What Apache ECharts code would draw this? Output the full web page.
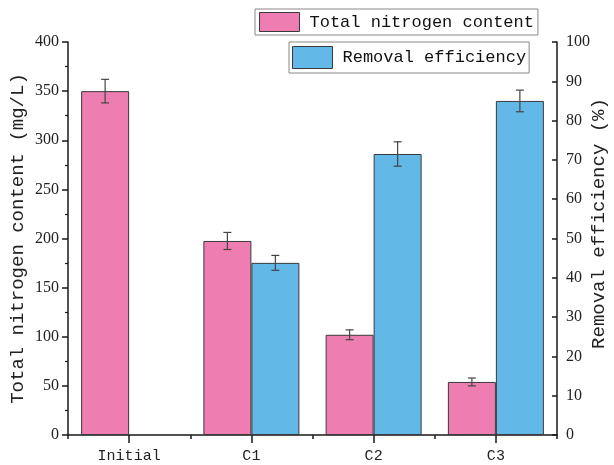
<!DOCTYPE html>
<html>
<head>
<meta charset="utf-8">
<script src="https://cdn.jsdelivr.net/npm/echarts@6/dist/echarts.min.js"></script>
<style>
html,body{margin:0;padding:0;background:#fff;}
#chart{width:614px;height:465px;}
</style>
</head>
<body>
<div id="chart"></div>
<script>
const categories = ['Initial', 'C1', 'C2', 'C3'];
const nitrogen = [350, 197.5, 102, 54];
const nitrogenErr = [12, 8.7, 5, 4];
const removal = [null, 43.8, 71.5, 85];
const removalErr = [null, 1.9, 3.1, 2.75];
const nitrogenName = 'Total nitrogen content';
const removalName = 'Removal efficiency';

const MONO = '"Liberation Mono", monospace';
const SERIF = '"Liberation Serif", serif';
const PINK = '#EE7EB1';
const BLUE = '#62B8E7';
const EDGE = '#3a3a3a';
const BAR_W = 48;

function errData(vals, errs) {
  const out = [];
  vals.forEach((v, i) => { if (v != null) out.push([i, v, errs[i]]); });
  return out;
}
function errRender(offset) {
  return function (params, api) {
    const i = api.value(0), v = api.value(1), e = api.value(2);
    const top = api.coord([i, v + e]);
    const bot = api.coord([i, v - e]);
    const x = top[0] + offset;
    const cw = 4;
    const style = { stroke: '#444', lineWidth: 1.2, fill: null };
    return {
      type: 'group',
      children: [
        { type: 'line', shape: { x1: x, y1: top[1], x2: x, y2: bot[1] }, style },
        { type: 'line', shape: { x1: x - cw, y1: top[1], x2: x + cw, y2: top[1] }, style },
        { type: 'line', shape: { x1: x - cw, y1: bot[1], x2: x + cw, y2: bot[1] }, style }
      ]
    };
  };
}

const chart = echarts.init(document.getElementById('chart'), null, { renderer: 'canvas' });
const axisLineStyle = { color: '#1a1a1a', width: 1.5 };
chart.setOption({
  animation: false,
  backgroundColor: '#fff',
  grid: { left: 68, right: 57, top: 42, bottom: 30, containLabel: false, outerBoundsMode: 'none' },
  legend: [
    {
      data: [nitrogenName], left: 255, top: 9, orient: 'horizontal',
      itemWidth: 40, itemHeight: 19, padding: [3, 4, 3, 4],
      borderColor: '#888', borderWidth: 1, backgroundColor: '#fff',
      icon: 'rect',
      itemStyle: { borderColor: EDGE, borderWidth: 1 },
      textStyle: { fontFamily: MONO, fontSize: 17, color: '#111', padding: [0, 0, 0, 5] }
    },
    {
      data: [removalName], left: 289, top: 42, orient: 'horizontal',
      itemWidth: 40, itemHeight: 22, padding: [4, 3, 4, 3],
      borderColor: '#888', borderWidth: 1, backgroundColor: '#fff',
      icon: 'rect',
      itemStyle: { borderColor: EDGE, borderWidth: 1 },
      textStyle: { fontFamily: MONO, fontSize: 17, color: '#111', padding: [0, 0, 0, 5] }
    }
  ],
  xAxis: [
    {
      type: 'category', data: categories, position: 'bottom',
      axisLine: { show: true, lineStyle: axisLineStyle },
      axisTick: { show: true, alignWithLabel: true, length: 8, lineStyle: { color: '#1a1a1a', width: 1.5 } },
      axisLabel: { fontFamily: MONO, fontSize: 15, color: '#222', margin: 14 },
      splitLine: { show: false }
    },
    {
      type: 'category', data: categories, position: 'bottom',
      axisLine: { show: false },
      axisTick: { show: true, length: 4, lineStyle: { color: '#1a1a1a', width: 1.5 } },
      axisLabel: { show: false },
      splitLine: { show: false }
    }
  ],
  yAxis: [
    {
      type: 'value', min: 0, max: 400, interval: 50, position: 'left',
      name: 'Total nitrogen content (mg/L)', nameLocation: 'middle', nameGap: 41,
      nameMoveOverlap: false,
      nameTextStyle: { fontFamily: MONO, fontSize: 19, color: '#222' },
      axisLine: { show: true, lineStyle: axisLineStyle },
      axisTick: { show: true, length: 6, lineStyle: { color: '#1a1a1a', width: 1.5 } },
      minorTick: { show: true, splitNumber: 2, length: 3, lineStyle: { color: '#1a1a1a', width: 1.2 } },
      axisLabel: { fontFamily: SERIF, fontSize: 16, color: '#222', margin: 9 },
      splitLine: { show: false }
    },
    {
      type: 'value', min: 0, max: 100, interval: 10, position: 'right',
      name: 'Removal efficiency (%)', nameLocation: 'middle', nameGap: 32,
      nameMoveOverlap: false,
      nameTextStyle: { fontFamily: MONO, fontSize: 19, color: '#222', padding: [0, 0, 0, 30] },
      axisLine: { show: true, lineStyle: axisLineStyle },
      axisTick: { show: true, inside: true, length: 5, lineStyle: { color: '#1a1a1a', width: 1.5 } },
      axisLabel: { fontFamily: SERIF, fontSize: 16, color: '#222', margin: 9 },
      splitLine: { show: false }
    }
  ],
  series: [
    {
      name: nitrogenName, type: 'bar', xAxisIndex: 0, yAxisIndex: 0,
      data: nitrogen, barWidth: BAR_W, barGap: '0%',
      itemStyle: { color: PINK, borderColor: EDGE, borderWidth: 1 }
    },
    {
      name: removalName, type: 'bar', xAxisIndex: 0, yAxisIndex: 1,
      data: removal.map(v => v == null ? '-' : v), barWidth: BAR_W, barGap: '0%',
      itemStyle: { color: BLUE, borderColor: EDGE, borderWidth: 1 }
    },
    {
      type: 'custom', xAxisIndex: 0, yAxisIndex: 0, z: 10,
      renderItem: errRender(-BAR_W / 2),
      data: errData(nitrogen, nitrogenErr), silent: true
    },
    {
      type: 'custom', xAxisIndex: 0, yAxisIndex: 1, z: 10,
      renderItem: errRender(BAR_W / 2),
      data: errData(removal, removalErr), silent: true
    }
  ]
});
</script>
</body>
</html>
